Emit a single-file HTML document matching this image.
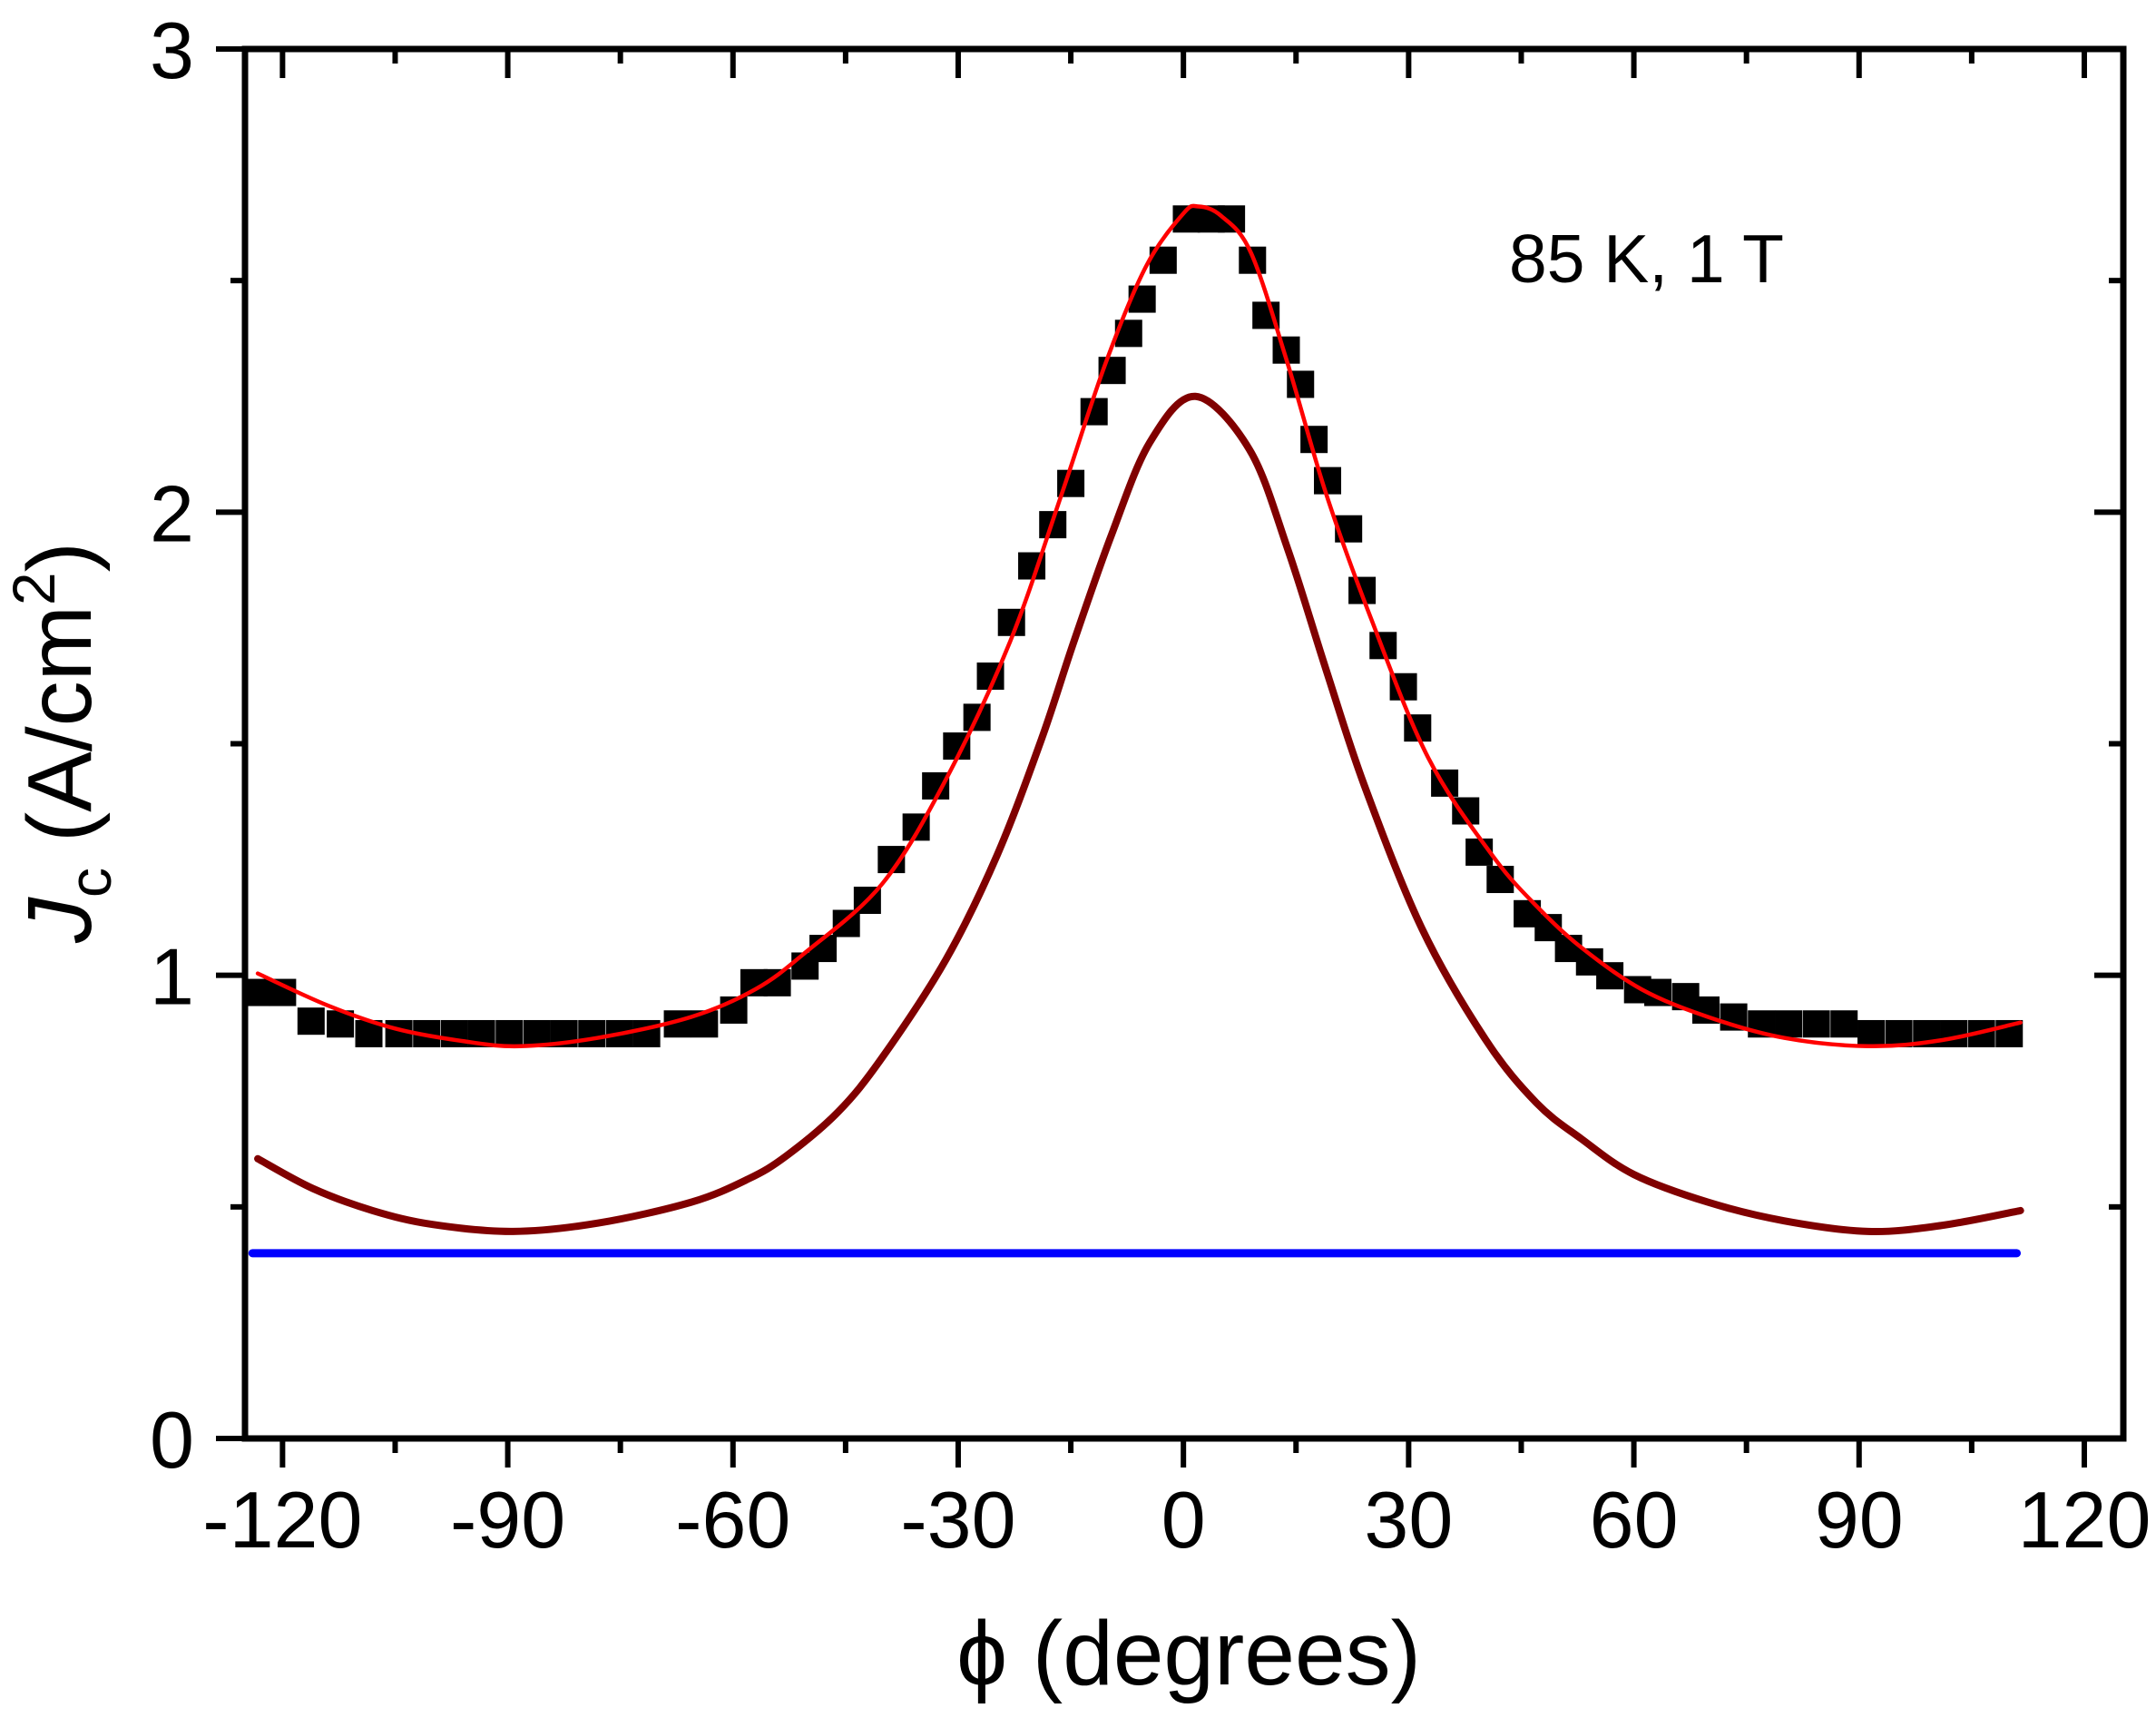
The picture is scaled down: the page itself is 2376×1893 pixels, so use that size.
<!DOCTYPE html>
<html><head><meta charset="utf-8"><style>
html,body{margin:0;padding:0;background:#fff;}
svg{display:block;font-family:"Liberation Sans",Arial,sans-serif;}
</style></head><body>
<svg id="chart" width="2376" height="1893" viewBox="0 0 2376 1893">
<g id="plot"></g>
<g id="axes"></g>
<text x="1663" y="311" font-size="75">85 K, 1 T</text>
<text x="1310" y="1856" font-size="100" text-anchor="middle">ϕ (degrees)</text>
<text transform="translate(100,818) rotate(-90)" font-size="100" text-anchor="middle"><tspan font-style="italic">J</tspan><tspan font-size="66" dy="22">c</tspan><tspan dy="-22"> (A/cm</tspan><tspan font-size="66" dy="-40">2</tspan><tspan dy="40">)</tspan></text>
</svg>
<script>
const dataX=[-123.5,-120,-116.2,-112.3,-108.5,-104.5,-100.8,-97.1,-93.5,-89.8,-86.1,-82.5,-78.8,-75.1,-71.5,-67.4,-63.8,-59.9,-57.2,-54.1,-50.4,-48,-44.9,-42.1,-38.9,-35.6,-33,-30.2,-27.5,-25.7,-22.9,-20.2,-17.4,-15,-11.9,-9.5,-7.3,-5.5,-2.7,0.4,3.7,6.4,9.2,11,13.7,15.6,17.4,19.2,22,23.8,26.6,29.3,31.2,34.8,37.6,39.4,42.2,45.8,48.6,51.3,54.1,56.8,60.5,63.2,66.9,69.6,73.3,77,80.6,84.3,88,91.6,95.3,99,102.6,106.3,110];
const dataY=[0.963,0.963,0.901,0.895,0.874,0.874,0.874,0.874,0.874,0.874,0.874,0.874,0.874,0.874,0.874,0.895,0.895,0.925,0.984,0.984,1.02,1.058,1.112,1.162,1.25,1.32,1.409,1.495,1.557,1.646,1.762,1.884,1.973,2.062,2.217,2.306,2.386,2.46,2.544,2.633,2.633,2.633,2.544,2.425,2.35,2.276,2.157,2.068,1.964,1.831,1.712,1.623,1.534,1.415,1.355,1.266,1.207,1.133,1.103,1.058,1.029,0.999,0.969,0.963,0.954,0.925,0.91,0.895,0.895,0.895,0.895,0.874,0.874,0.874,0.874,0.874,0.874];
const fitX=[-123.3,-114,-105,-96,-88.4,-78,-65.6,-57,-50.3,-40.1,-31.6,-23.1,-16.3,-10.4,-5,0,2,5,9,13.9,19,25,32.6,41.1,47,53,61,69.9,80,91.2,101,111.5];
const fitY=[1.004,0.935,0.885,0.858,0.847,0.865,0.91,0.97,1.05,1.198,1.424,1.72,2.035,2.32,2.53,2.645,2.66,2.64,2.56,2.32,2.04,1.77,1.47,1.26,1.15,1.06,0.97,0.91,0.865,0.847,0.86,0.898];
const compX=[-123.3,-116,-108,-100,-89.3,-78,-65.6,-58,-52.9,-46,-40.1,-31.6,-24.8,-18.9,-14.6,-9.6,-4.5,1.6,8.8,13.9,19,24.1,31.8,40.3,47,53,60,69.9,80,91.2,101,111.5];
const compY=[0.604,0.54,0.492,0.462,0.447,0.465,0.51,0.56,0.61,0.705,0.823,1.035,1.26,1.51,1.72,1.95,2.15,2.25,2.135,1.92,1.66,1.41,1.1,0.86,0.725,0.647,0.57,0.51,0.47,0.447,0.46,0.492];
const baseX=[-124,111];
const baseY=[0.4,0.4];
const xTicks=[-120,-90,-60,-30,0,30,60,90,120];
const xTickLabels=["-120","-90","-60","-30","0","30","60","90","120"];
const yTicks=[0,1,2,3];
const yTickLabels=["0","1","2","3"];

const L=270,R=2340,T=54,B=1585,x0=-125,x1=125.2,y0=0,y1=3;
const sx=v=>L+(v-x0)/(x1-x0)*(R-L);
const sy=v=>B-(v-y0)/(y1-y0)*(B-T);
const NS="http://www.w3.org/2000/svg";
const plot=document.getElementById('plot'),axes=document.getElementById('axes');
function mk(tag,attrs,parent){const e=document.createElementNS(NS,tag);for(const k in attrs)e.setAttribute(k,attrs[k]);parent.appendChild(e);return e;}
function smooth(xs,ys){const p=xs.map((x,i)=>[sx(x),sy(ys[i])]);let d=`M${p[0][0]},${p[0][1]}`;
for(let i=0;i<p.length-1;i++){const a=p[i-1]||p[i],b=p[i],c=p[i+1],e=p[i+2]||c;
d+=` C${b[0]+(c[0]-a[0])/6},${b[1]+(c[1]-a[1])/6} ${c[0]-(e[0]-b[0])/6},${c[1]-(e[1]-b[1])/6} ${c[0]},${c[1]}`;}return d;}
dataX.forEach((x,i)=>{const r=mk('rect',{x:sx(x)-15,y:sy(dataY[i])-15,width:30,height:30,fill:'#000'},plot);

});
let b=mk('path',{d:smooth(baseX,baseY),stroke:'#0000ff','stroke-width':9,fill:'none','stroke-linecap':'round'},plot);


let c=mk('path',{d:smooth(compX,compY),stroke:'#800000','stroke-width':8,fill:'none','stroke-linecap':'round'},plot);


let f=mk('path',{d:smooth(fitX,fitY),stroke:'#ff0000','stroke-width':4.5,fill:'none','stroke-linecap':'round'},plot);


let fr=mk('rect',{x:L,y:T,width:R-L,height:B-T,fill:'none',stroke:'#000','stroke-width':7},axes);


for(let v=-120;v<=120;v+=15){const X=sx(v);const maj=v%30===0;const len=maj?32:16;
mk('line',{x1:X,y1:B,x2:X,y2:B+len,stroke:'#000','stroke-width':6},axes);
mk('line',{x1:X,y1:T,x2:X,y2:T+len,stroke:'#000','stroke-width':6},axes);}
xTicks.forEach((v,i)=>{const t=mk('text',{x:sx(v),y:1705,'font-size':88,'text-anchor':'middle'},axes);t.textContent=xTickLabels[i];

});
for(let v=0;v<=3;v+=0.5){const Y=sy(v);const maj=Math.abs(v%1)<1e-9;const len=maj?32:16;
mk('line',{x1:L-len,y1:Y,x2:L,y2:Y,stroke:'#000','stroke-width':6},axes);
mk('line',{x1:R-len,y1:Y,x2:R,y2:Y,stroke:'#000','stroke-width':6},axes);}
yTicks.forEach((v,i)=>{const t=mk('text',{x:214,y:sy(v)+32,'font-size':88,'text-anchor':'end'},axes);t.textContent=yTickLabels[i];

});
</script>
</body></html>
